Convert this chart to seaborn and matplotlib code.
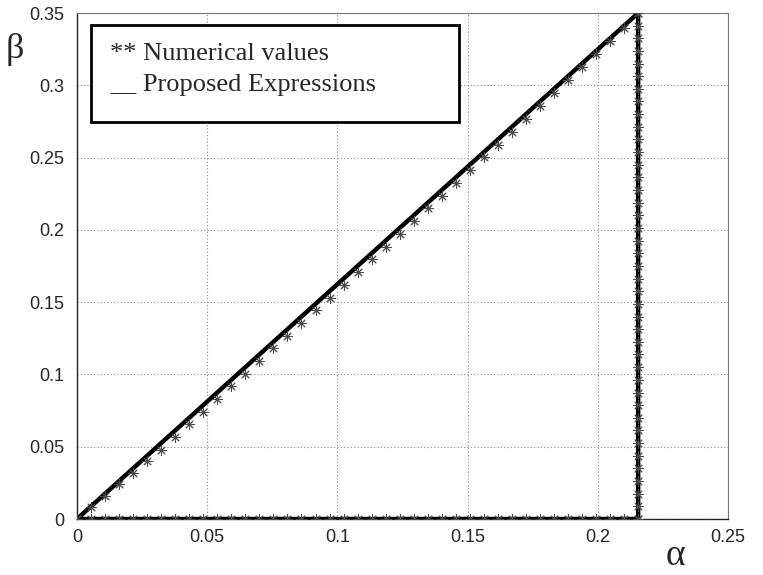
import matplotlib
matplotlib.use("Agg")
import matplotlib.pyplot as plt
from matplotlib.patches import Rectangle
import seaborn as sns
import pandas as pd

# --- data ---
alpha_num = [0, 0.0054, 0.0108, 0.0162, 0.0216, 0.0270, 0.0323, 0.0377, 0.0431, 0.0485,
             0.0539, 0.0593, 0.0647, 0.0700, 0.0754, 0.0808, 0.0862, 0.0916, 0.0970, 0.1024,
             0.1078, 0.1131, 0.1185, 0.1239, 0.1293, 0.1347, 0.1401, 0.1455, 0.1509, 0.1562,
             0.1616, 0.1670, 0.1724, 0.1778, 0.1832, 0.1886, 0.1940, 0.1993, 0.2047, 0.2101,
             0.2155]
beta_num_diag = [0, 0.0080, 0.0160, 0.0240, 0.0318, 0.0398, 0.0478, 0.0568, 0.0655, 0.0742,
                 0.0830, 0.0918, 0.1006, 0.1093, 0.1180, 0.1268, 0.1356, 0.1443, 0.1532, 0.1620,
                 0.1708, 0.1795, 0.1883, 0.1972, 0.2060, 0.2148, 0.2237, 0.2325, 0.2413, 0.2502,
                 0.2590, 0.2680, 0.2768, 0.2858, 0.2947, 0.3037, 0.3127, 0.3216, 0.3306, 0.3396,
                 0.3500]
beta_num_vert = [0.3500, 0.3413, 0.3325, 0.3238, 0.3150, 0.3063, 0.2975, 0.2888, 0.2800, 0.2713,
                 0.2625, 0.2538, 0.2450, 0.2363, 0.2275, 0.2188, 0.2100, 0.2013, 0.1925, 0.1838,
                 0.1750, 0.1663, 0.1575, 0.1488, 0.1400, 0.1313, 0.1225, 0.1138, 0.1050, 0.0963,
                 0.0875, 0.0788, 0.0700, 0.0613, 0.0525, 0.0438, 0.0350, 0.0263, 0.0175, 0.0088,
                 0.0]
alpha_vert = 0.2155
alpha_prop = [0.0, 0.2155, 0.2155, 0.0]
beta_prop = [0.0, 0.350, 0.0, 0.0]

xticks = [0, 0.05, 0.1, 0.15, 0.2, 0.25]
xticklabels = ["0", "0.05", "0.1", "0.15", "0.2", "0.25"]
yticks = [0, 0.05, 0.1, 0.15, 0.2, 0.25, 0.3, 0.35]
yticklabels = ["0", "0.05", "0.1", "0.15", "0.2", "0.25", "0.3", "0.35"]
legend_lines = ["** Numerical values", "__ Proposed Expressions"]

df_num = pd.concat([
    pd.DataFrame({"alpha": alpha_num, "beta": beta_num_diag}),
    pd.DataFrame({"alpha": [alpha_vert] * len(beta_num_vert), "beta": beta_num_vert}),
    pd.DataFrame({"alpha": alpha_num, "beta": [0.0] * len(alpha_num)}),
], ignore_index=True)
df_prop = pd.DataFrame({"alpha": alpha_prop, "beta": beta_prop})

sns.set_style("white")
plt.rcParams["font.family"] = ["Liberation Sans", "DejaVu Sans"]

W, H = 763, 575
fig = plt.figure(figsize=(W / 100, H / 100), dpi=100)
ax = fig.add_axes([77 / W, 1 - 519 / H, (728 - 77) / W, (519 - 13) / H])

sns.lineplot(data=df_prop, x="alpha", y="beta", sort=False, estimator=None,
             color="black", linewidth=3.2, ax=ax, zorder=3)
sns.scatterplot(data=df_num, x="alpha", y="beta", marker=(8, 2, 0), s=48,
                color="#4a4a4a", linewidth=0.7, ax=ax, zorder=4)

ax.set_xlim(0, 0.25)
ax.set_ylim(0, 0.35)
ax.set_xticks(xticks)
ax.set_xticklabels(xticklabels)
ax.set_yticks(yticks)
ax.set_yticklabels(yticklabels)
ax.tick_params(axis="both", labelsize=13, direction="in", length=3, color="#333333")
ax.tick_params(axis="y", pad=9)
ax.tick_params(axis="x", pad=7)
ax.grid(True, linestyle=(0, (1, 2)), color="#888888", linewidth=0.8)
ax.set_axisbelow(True)
for side in ["left", "bottom"]:
    ax.spines[side].set_color("#222222")
    ax.spines[side].set_linewidth(1.0)
for side in ["top", "right"]:
    ax.spines[side].set_color("#777777")
    ax.spines[side].set_linewidth(0.8)
ax.set_xlabel("")
ax.set_ylabel("")

fig.text(15 / W, 1 - 50 / H, "β", fontsize=26, family="Liberation Serif",
         ha="center", va="center")
fig.text(675 / W, 1 - 556 / H, "α", fontsize=27, family="Liberation Serif",
         ha="center", va="center")

# legend box
fig.add_artist(Rectangle((91 / W, 1 - 122 / H), (459 - 91) / W, (122 - 25) / H,
                         transform=fig.transFigure, facecolor="white",
                         edgecolor="black", linewidth=2.0, zorder=6))
fig.text(110 / W, 1 - 54 / H, legend_lines[0], fontsize=19, family="Liberation Serif",
         ha="left", va="center", zorder=7)
fig.text(110 / W, 1 - 85 / H, legend_lines[1], fontsize=19, family="Liberation Serif",
         ha="left", va="center", zorder=7)

fig.savefig("out.png", dpi=100)
